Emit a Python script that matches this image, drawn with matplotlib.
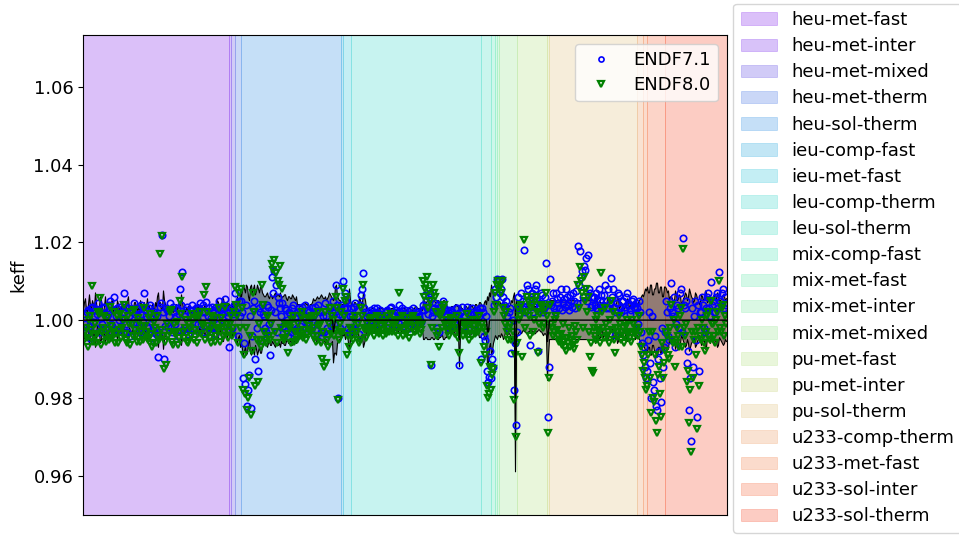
import sys
import numpy as np
import matplotlib
matplotlib.use("Agg")
import matplotlib.pyplot as plt
from matplotlib.colors import to_rgb

plt.rcParams['font.family'] = ['DejaVu Sans']
plt.rcParams['font.size'] = 13

categories = ['heu-met-fast', 'heu-met-inter', 'heu-met-mixed', 'heu-met-therm',
              'heu-sol-therm', 'ieu-comp-fast', 'ieu-met-fast', 'leu-comp-therm',
              'leu-sol-therm', 'mix-comp-fast', 'mix-met-fast', 'mix-met-inter',
              'mix-met-mixed', 'pu-met-fast', 'pu-met-inter', 'pu-sol-therm',
              'u233-comp-therm', 'u233-met-fast', 'u233-sol-inter', 'u233-sol-therm']

# apparent (blended) background colour of each category band
span_colors = ['#dcc1fa', '#d9c3fa', '#d2ccf8', '#cbd8f8', '#c6e0f8', '#c3e7f6', '#c5eff5',
               '#c8f4f1', '#cbf6ee', '#cef8eb', '#d5f9e8', '#dbf9e5', '#e2f8e0', '#eaf7dc',
               '#f0f3da', '#f7eedb', '#fae3d3', '#fcdccd', '#fdd5c9', '#fdcdc4']

# keff deviations from 1.0, in pcm, one inner list per category
k71_pcm = [
    [150, -100, -300, 200, 250, -150, -450, 300, 350, -50, 100, 250, -200, 150, 450, -300, 200, 50, -100, 350,
     300, -200, -350, 100, 150, 400, 500, -100, -150, 250, 600, -250, 100, 300, -250, 0, 350, -150, 50, 200,
     700, 350, -100, -300, 300, 100, -400, 250, 200, -100, 450, 150, -50, 300, 250, -200, -300, 400, 150, -50,
     700, 250, 100, -150, -200, 300, 400, 50, -450, -250, 200, 150, -350, 100, -950, -300, 350, 450, 2190, 200,
     -1000, -150, 300, 250, -150, 100, 450, -200, -300, 350, 200, -100, 100, 300, -400, 150, 800, 400, 1230, -250,
     -200, 100, 250, 350, -350, -50, 150, 250, 400, -200, -250, 150, 300, 50, -100, 300, 450, -100, 200, 400,
     -300, 200, 470, -150, 100, 300, -200, 50, 350, -200, 250, 100, -350, 350, 150, -100, 500, 250, 300, 150,
     -150, 300, 550, -50, 200, 100],
    [-700, 200],
    [300, -200, 150, 400],
    [700, 200, 300, -400, 500, 100],
    [500, 200, -1500, -600, -1650, 400, -2200, -1800, -1400, 100, -2250, -400, 300, 500, -1000, -200, -1300, 300, 200, -500, 400, 150,
     100, -200, -300, 400, 350, -100, -900, 250, 1100, 700, 1250, 200, 900, -300, 600, 450, 300, 100, 450, -150,
     -200, 300, 250, 0, -400, 200, 150, -300, 300, 400, -250, 50, 100, -200,
     200, 300, -150, -100, 350, 150, 100, 400, -200, -50, 250, 200, 50, -250, 300, 100,
     150, 350, -250, -100, 400, 250, 200, -300, -400, 100, -300, 450, 100, -200, -350, 300, 350, -150, 200, 500,
     -100, 200, 900, 400, -2000, 150, 300, -200],
    [400, 100],
    [1000, 300, 700, 500, 300, -200, -300, 100],
    [300, 100, -200, 350, 450, -100, 100, 250, -350, 400, 650, 800, 1200, 300, 200, -150,
     100, 200, -150, 0, 250, 150, -50, 300, 200, -100, 300, 50, -100, 250, 150, 100, -200, 0, 100, 200,
     250, -50, -50, 300, 350, 100, 150, -150, -100, 250, 200, 50, 400, 200, 100, 300, -150, 0, 250, 150,
     50, 100, -200, 250, 150, -100, 300, 50, -100, 200, 200, 150, 100, 0, -50, 250,
     400, 250, 650, 500, 300, 150, 600, 700, -1150, 100, 200, 300, 450, 200, -200, 400, -300, 150, 350, 250,
     500, 300, 150, 100,
     100, 250, -200, 50, 250, 200, 150, -100, -100, 300, 300, 150, -1150, 200, 200, 350, -150, 100, 100, -50,
     350, 200, -250, 150, 150, 300, 200, 50, -100, 200, 250, 150, 100, 300],
    [-1000, 300, 200, -400, -500, 100, -1300, -1600, -1450, -800],
    [-1500, -1000, -1200, 400],
    [800, 600],
    [1050, 900],
    [1000, 700, 800, 1050, 600, 400, 300, 500, 100, -200, 200, 300, -850, 0, -1800, -600, -2700, -300],
    [600, 300, 400, 700, 300, 500, 1800, 200, 500, 900, 800, 400, -650, 600, 700, 200, 350, 800, 900, 500,
     -800, 300, 450, 700, 650, 200, 300, 600, 1470, 400],
    [-2500, -1200],
    [1050, 400, 500, 700, 300, 200, 700, 550, 450, 300, 600, 800, 250, 450, 550, 350, 800, 600, 400, 250,
     650, 500, 350, 700, 500, 300, 750, 450,
     1900, 900, 1770, 1100, 1260, 600, 1400, 1300, 1600, 500, 1670, 800, 700, 350, 400, 600,
     600, 400, 300, 700, 550, 250, 800, 500, 650, 350, 400, 650, 900, 300, 500, 800, 300, 450, 1080, 600,
     800, 350, -390, 200, 450, 700, 650, 300, 200, 500, 500, 250, 350, 600, 700, 400, 400, 150, 250, 500,
     550, 350, 300, 450],
    [300, -100, 500, 200, -300, -600],
    [-900, -700, -1200, -1500],
    [-1300, -500, 200, -1100, -2000, 100, -1600, -1800, -400, -2200, -2300, -1000, -800, -1500, -2100, -200,
     -1200, -700],
    [-300, 500, 200, -400, -500, 300, 950, 200, 100, 600, -700, -100, 400, 300, -200, 700, 800, -300, 2100, 400,
     300, 500, -1100, -800, -2320, -1500, -3100, 300, -1200, 100, 500, -500, -2500, 400, -1300, 200, 200, 600, 400, -200,
     -300, 300, 600, 700, 300, 100, 980, 400, 500, 200, 200, 600, 700, 300, 1230, 500, 400, 700, 800, 300,
     600, 400],
]

k80_pcm = [
    [-500, -300, -200, -450, -700, 0, 100, -250, 870, -550, -400, -100, -600, -350, 200, 150, 560, -650, -300, -200,
     100, -400, -550, 50, -250, -500, 350, -150, -450, -300, 200, -600, -350, 100, -600, -250, 150, -450, -200, 0,
     400, -350, -500, -600, 100, -100, -650, 200, -100, -400, 250, -250, -400, -550, 50, -50, -550, -300, -150, -500,
     300, -150, -300, -450, -500, 50, 150, -350, -700, -600, -50, -200, -600, 100, -400, -500, 1700, -250, 2170, -400,
     -1250, -550, -1150, -100, -400, -300, 200, 250, -550, -650, -100, -350, -300, -50, -650, -450, 500, 150, 1100, -300,
     -450, -200, 0, -550, -600, -100, -200, -400, 150, 0, -500, -250, 50, -600, -350, 100, 200, -350, -100, -150,
     650, -500, 850, 200, -150, -300, -450, -600, 100, -150, -50, 50, -550, -400, -200, -250, 300, -550, 50, -100,
     -400, -300, 350, -200, -100, -450],
    [-300, -100],
    [100, -400, -200, 200],
    [850, 400, 100, -600, 700, -200],
    [800, 300, -1800, -900, -1900, -200, -2300, -2000, -1500, -400, -2450, -800, 700, 200, -1700, -500, -1600, -100, -500, -700, 900, 400,
     -300, -500, -600, 100, 100, -400, -500, -100, 1450, 1300, 1550, -300, 1200, -600, 1000, 900, 1400, -200, 800, -450,
     -500, -100, -100, -350, -850, -150, -200, -600, 0, 100, -550, -300, -300, -500,
     -100, -300, -400, 100, 200, -450, -250, 0, -500, -350, 50, -150, -300, 50, 100, -400,
     -200, 100, -550, -400, 200, -150, -100, -600, -1000, -300, -1200, 200, -1100, -500, -700, -100, 300, -350, 100, 0,
     -400, -250, 600, 300, -2050, -500, -100, -300],
    [200, -300],
    [800, 100, 500, 600, -900, -400, -700, -200],
    [-200, -400, -500, 0, 100, -300, -300, -100, -600, -500, 300, 100, 900, -200, -250, -450,
     -100, -250, -300, 0, 50, -200, -250, -400, 0, -100, 100, -300, -350, 50, -150, -250, -400, -100, -50, -350,
     100, -200, -300, 0, 150, -300, -100, -150, -300, -50, 0, -400, 700, -200, -200, 100, -400, -250, 50, -350,
     -150, -100, -450, -200, -50, 50, 100, -300, -300, -150, 0, -50, -150, -350, -250, -100,
     1000, 600, 800, 900, 1100, 300, 750, 500, -1150, -200, 900, 700, 600, 200, -400, -300, -700, 100, 150, -200,
     300, 400, -100, 0,
     -150, -300, -400, -100, 50, -250, -100, 0, -350, -200, 100, -450, -850, -300, -50, -200, -400, -100, -150, -350,
     150, -50, -500, -250, -100, -400, 0, -150, -350, 0, -100, -300, 100, -200],
    [-1100, -100, -200, -700, -900, -300, -1700, -2000, -1900, -1200],
    [-1800, -1400, -1250, 200],
    [700, 400],
    [900, 1000],
    [800, 900, 700, 1000, 300, 100, -100, 200, -300, -500, -200, -100, -500, -300, -2050, -900, -3000, -600],
    [300, 0, 100, 400, -950, 200, 2070, -200, 200, 600, 500, 100, -400, 300, 400, -300, 0, 500, 600, 200,
     -850, -100, 150, 400, 350, -200, -100, 300, 700, 100],
    [-2900, -1500],
    [400, -100, -200, -400, -300, 0, 100, -250, -400, -550, -500, -350, -650, -100, -550, -700, -800, -450, -600, -200,
     -700, -500, -400, -650, -750, -150, -300, -500,
     900, 300, 1360, 1000, 700, -200, 1100, 500, 800, 200, 600, -300, -950, -600, -1300, -1360,
     -200, -400, -500, 0, 100, -250, -300, -600, 1200, 200, -200, -450, 300, -100, -400, -300, -600, 0, 500, -250,
     200, -500, -850, -200, -300, -400, 100, -100, -500, -300, -200, -600, -400, -150, 0, -350, -300, -450, -550, 0,
     -100, -300, -350, -200],
    [-200, -400, 100, -300, -700, -900],
    [-1300, -1100, -1500, -1800],
    [-1700, -900, -300, -1500, -2400, -300, -2000, -2100, -900, -2600, -2900, -1400, -1200, -1900, -2500, -600,
     -1500, -1100],
    [-800, -300, -400, -900, -1000, -200, 400, -500, -600, 0, -1200, -600, -200, -400, -700, 100, 300, -700, 1830, -200,
     -400, -100, -1600, -1300, -2650, -1800, -3400, -300, -1500, -500, -300, -900, -2800, -200, -1700, -400, -500, 0, -200, -600,
     -800, -300, 100, 200, -400, -500, 500, -100, -100, -400, -600, 0, 200, -300, 1000, -200, -300, 300, 400, -400,
     100, -100],
]

# 1-sigma benchmark uncertainty, pcm
unc_pcm = [
    [300, 450, 550, 250, 200, 400, 650, 350, 250, 500, 400, 300, 700, 450, 150, 300, 350, 600, 500, 250,
     200, 350, 600, 300, 300, 450, 250, 200, 450, 550, 200, 300, 350, 250, 500, 400, 250, 300, 300, 450,
     400, 250, 250, 350, 500, 600, 200, 300, 350, 250, 300, 450, 450, 300, 250, 350, 200, 500, 400, 300,
     300, 450, 250, 350, 550, 300, 350, 250, 200, 400, 300, 250, 450, 350, 600, 700, 350, 450, 250, 300,
     750, 500, 400, 300, 300, 250, 250, 350, 350, 300, 200, 250, 300, 400, 250, 350, 400, 300, 650, 450,
     300, 250, 200, 300, 250, 350, 300, 200, 200, 250, 250, 300, 350, 250, 300, 400, 200, 250, 250, 300,
     300, 350, 400, 250, 250, 300, 300, 200, 200, 350, 350, 250, 250, 300, 500, 450, 300, 250, 400, 550,
     550, 400, 300, 350, 450, 350],
    [400, 300],
    [300, 450, 250, 350],
    [350, 500, 600, 450, 400, 700],
    [600, 750, 900, 800, 700, 900, 850, 600, 500, 850, 900, 700, 800, 900, 650, 750, 900, 800, 700, 850, 850, 700,
     650, 600, 600, 650, 700, 600, 550, 650, 650, 550, 600, 650, 700, 600, 650, 650, 600, 700, 550, 600,
     600, 650, 650, 550, 500, 600, 600, 550, 550, 650, 600, 550, 500, 600,
     400, 400, 400, 350, 350, 400, 400, 400, 450, 400, 400, 350, 350, 400, 400, 450,
     550, 500, 500, 550, 600, 550, 550, 600, 650, 600, 550, 550, 600, 500, 550, 600, 700, 650, 600, 550,
     800, 700, 850, 900, 600, 550, 500, 500],
    [300, 400],
    [400, 350, 500, 400, 350, 600, 800, 500],
    [400, 400, 350, 450, 450, 400, 300, 350, 600, 500, 400, 450, 700, 600, 500, 300,
     250, 250, 250, 250, 300, 300, 300, 300, 250, 250, 250, 250, 300, 300, 300, 300, 250, 250, 300, 300,
     250, 250, 250, 250, 300, 300, 300, 300, 250, 250, 300, 300, 250, 250, 300, 300, 300, 300, 250, 250,
     300, 300, 300, 300, 250, 250, 300, 300, 350, 350, 300, 300, 300, 300, 250, 250,
     500, 500, 450, 450, 500, 500, 500, 500, 450, 450, 500, 500, 450, 450, 500, 500, 450, 450, 400, 400,
     500, 500, 450, 450,
     300, 300, 250, 250, 350, 350, 300, 300, 400, 400, 350, 350, 700, 400, 300, 300, 250, 250, 350, 350,
     300, 300, 400, 400, 350, 350, 300, 300, 400, 400, 350, 350, 450, 450],
    [400, 350, 350, 450, 500, 400, 900, 800, 700, 600],
    [900, 800, 600, 500],
    [400, 450],
    [500, 400],
    [400, 450, 350, 400, 500, 450, 300, 350, 400, 350, 350, 400, 500, 450, 600, 700, 1900, 500],
    [400, 350, 300, 300, 350, 300, 250, 300, 300, 350, 350, 300, 300, 250, 250, 300, 300, 350, 350, 300,
     300, 250, 250, 300, 300, 350, 400, 350, 350, 400],
    [1000, 600],
    [500, 500, 500, 500, 500, 500, 500, 500, 500, 500, 500, 500, 500, 500, 500, 500, 500, 500, 500, 500,
     500, 500, 500, 500, 500, 500, 500, 500, 500, 500, 500, 500, 500, 500, 500, 500, 500, 500, 500, 500,
     500, 500, 500, 500, 500, 500,
     600, 550, 350, 400, 500, 450, 250, 300, 450, 400, 300, 350, 550, 500, 400, 300, 200, 250, 500, 450,
     350, 400, 600, 550, 300, 350, 450, 400, 250, 300, 400, 450, 550, 500, 300, 350, 450, 400, 350, 300,
     500, 450],
    [400, 450, 500, 550, 600, 650],
    [600, 700, 800, 750],
    [850, 700, 700, 900, 900, 650, 650, 800, 800, 950, 950, 700, 700, 850, 850, 600, 600, 850],
    [850, 800, 700, 750, 500, 600, 600, 550, 450, 500, 750, 650, 500, 550, 650, 600, 400, 450, 550, 600,
     700, 650, 500, 600, 800, 700, 600, 550, 450, 500, 700, 650, 550, 500, 400, 450, 650, 600, 500, 550,
     750, 700, 450, 500, 550, 600, 400, 450, 600, 650, 500, 550, 700, 650, 450, 500, 550, 600, 650, 600,
     500, 550],
]

# benchmark (experimental) keff offsets from 1.0, pcm
exp_pcm = [
    [0, 0, 0, 0, 0, 0, 0, 0, 0, 0, 0, 0, 0, 0, 0, 0, 0, 0, 0, 0,
     0, 0, 0, 0, 0, 0, 0, 0, 0, 0, 0, 0, 0, 0, 0, 0, 0, 0, 0, 0,
     0, 0, 0, 0, 0, 0, 0, 0, 0, 0, 0, 0, 0, 0, 0, 0, 0, 0, 0, 0,
     0, 0, 0, 0, 0, 0, 0, 0, 0, 0, 0, 0, 0, 0, 0, 0, 0, 0, 0, 0,
     0, 0, 0, 0, 0, 0, 0, 0, 0, 0, 0, 0, 0, 0, 0, 0, 0, 0, 0, 0,
     0, 0, 0, 0, 0, 0, 0, 0, 0, 0, 0, 0, 0, 0, 0, 0, 0, 0, 0, 0,
     0, 0, 0, 0, 0, 0, 0, 0, 0, 0, 0, 0, 0, 0, 0, 0, 0, 0, 0, 0,
     0, 0, 0, 0, 0, 0],
    [0, 0],
    [0, 0, 0, 0],
    [0, 0, 0, 0, 0, 0],
    [0, 0, 0, 0, 0, 0, 0, 0, 0, 0, 0, 0, 0, 0, 0, 0, 0, 0, 0, 0,
     0, 0, 0, 0, 0, 0, 0, 0, 0, 0, 0, 0, 0, 0, 0, 0, 0, 0, 0, 0,
     0, 0, 0, 0, 0, 0, 0, 0, 0, 0, 0, 0, 0, 0, 0, 0, 0, 0, 0, 0,
     0, 0, 0, 0, 0, 0, 0, 0, 0, 0, 0, 0, 0, 0, 0, 0, 0, 0, 0, 0,
     0, 0, 0, 0, 0, 0, 0, 0, 0, 0, 0, 0, -300, -150, 0, 0, 0, 0, 0, 0],
    [0, 0],
    [0, 0, 0, 0, 0, 0, 0, 0],
    [0, 0, 0, 0, 0, 0, 0, 0, 0, 0, 0, 0, 0, 0, 0, 0, 0, 0, 0, 0,
     0, 0, 0, 0, 0, 0, 0, 0, 0, 0, 0, 0, 0, 0, 0, 0, 0, 0, 0, 0,
     0, 0, 0, 0, 0, 0, 0, 0, 0, 0, 0, 0, 0, 0, 0, 0, 0, 0, 0, 0,
     0, 0, 0, 0, 0, 0, 0, 0, 0, 0, 0, 0, 0, 0, 0, 0, 0, 0, 0, 0,
     0, 0, 0, 0, 0, 0, 0, 0, 0, 0, 0, 0, 0, 0, 0, 0, 0, 0, 0, 0,
     0, 0, 0, 0, 0, 0, 0, 0, -500, 0, 0, 0, 0, 0, 0, 0, 0, 0, 0, 0,
     0, 0, 0, 0, 0, 0, 0, 0, 0, 0],
    [0, 0, 0, 0, 0, 0, -300, -300, 0, 0],
    [0, 0, 0, 0],
    [0, 0],
    [0, 0],
    [0, 0, 0, 0, 0, 0, 0, 0, 0, 0, 0, 0, 0, 0, 0, 0, -2000, 0],
    [0, 0, 0, 0, 0, 0, 0, 0, 0, 0, 0, 0, 0, 0, 0, 0, 0, 0, 0, 0,
     0, 0, 0, 0, 0, 0, 0, 0, 0, 0],
    [-550, -300],
    [0, 0, 0, 0, 0, 0, 0, 0, 0, 0, 0, 0, 0, 0, 0, 0, 0, 0, 0, 0,
     0, 0, 0, 0, 0, 0, 0, 0, 0, 0, 0, 0, 0, 0, 0, 0, 0, 0, 0, 0,
     0, 0, 0, 0, 0, 0, 0, 0, 0, 0, 0, 0, 0, 0, 0, 0, 0, 0, 0, 0,
     0, 0, 0, 0, 0, 0, 0, 0, 0, 0, 0, 0, 0, 0, 0, 0, 0, 0, 0, 0,
     0, 0, 0, 0, 0, 0, 0, 0],
    [0, 0, 0, 0, 0, 0],
    [0, 0, 0, 0],
    [0, 0, 0, 0, 0, 0, 0, 0, 0, 0, 0, 0, 0, 0, 0, 0, 0, 0],
    [0, 0, 0, 0, 0, 0, 0, 0, 0, 0, 0, 0, 0, 0, 0, 0, 0, 0, 0, 0,
     0, 0, 0, 0, 0, 0, 0, 0, 0, 0, 0, 0, 0, 0, 0, 0, 0, 0, 0, 0,
     0, 0, 0, 0, 0, 0, 0, 0, 0, 0, 0, 0, 0, 0, 0, 0, 0, 0, 0, 0,
     0, 0],
]

# consistency check (report and trim to the shortest list if something is off)
counts = []
for ci, cat in enumerate(categories):
    lens = [len(k71_pcm[ci]), len(k80_pcm[ci]), len(unc_pcm[ci]), len(exp_pcm[ci])]
    if len(set(lens)) > 1:
        print('length mismatch', cat, lens, file=sys.stderr)
    counts.append(min(lens))


def flat(lists):
    return np.concatenate([np.array(c[:n], float) for c, n in zip(lists, counts)])


k71 = 1.0 + flat(k71_pcm) / 1e5
k80 = 1.0 + flat(k80_pcm) / 1e5
unc = flat(unc_pcm) / 1e5
exp = 1.0 + flat(exp_pcm) / 1e5
N = len(k71)
x = np.arange(N)

fig = plt.figure(figsize=(9.59, 5.36), dpi=100)
ax = fig.add_axes([83 / 959, 21 / 536, 644 / 959, 480 / 536])

span_alpha = 0.25
starts = np.concatenate([[0], np.cumsum(counts)])
span_handles = []
for i, cat in enumerate(categories):
    rgb = np.array(to_rgb(span_colors[i]))
    base = np.clip(1 - (1 - rgb) / span_alpha, 0, 1)
    h = ax.axvspan(starts[i] - 0.5, starts[i + 1] - 0.5, facecolor=base, edgecolor=base,
                   lw=0.6, alpha=span_alpha, label=cat, zorder=0)
    span_handles.append(h)

ax.fill_between(x, exp - unc, exp + unc, facecolor='black', alpha=0.42, lw=0, zorder=1.5)
ax.plot(x, exp - unc, color='black', lw=0.8, zorder=1.8)
ax.plot(x, exp + unc, color='black', lw=0.8, zorder=1.8)
l1, = ax.plot(x, k71, 'o', mfc='none', mec='blue', ms=4.6, mew=1.2, zorder=2, label='ENDF7.1')
l2, = ax.plot(x, k80, 'v', mfc='none', mec='green', ms=4.6, mew=1.6, zorder=2.1, label='ENDF8.0')
ax.plot(x, exp, color='black', lw=1.0, zorder=3)

ax.set_xlim(-0.5, N - 0.5)
ax.set_ylim(0.9499, 1.0733)
ax.set_xticks([])
ax.set_ylabel('keff')

leg1 = ax.legend(handles=span_handles, loc='center left', bbox_to_anchor=(1.0, 0.514),
                 borderaxespad=0.35, labelspacing=0.45)
ax.add_artist(leg1)
ax.legend(handles=[l1, l2], loc='upper right', labelspacing=0.38, markerscale=0.8)

fig.savefig('out.png', dpi=100)
